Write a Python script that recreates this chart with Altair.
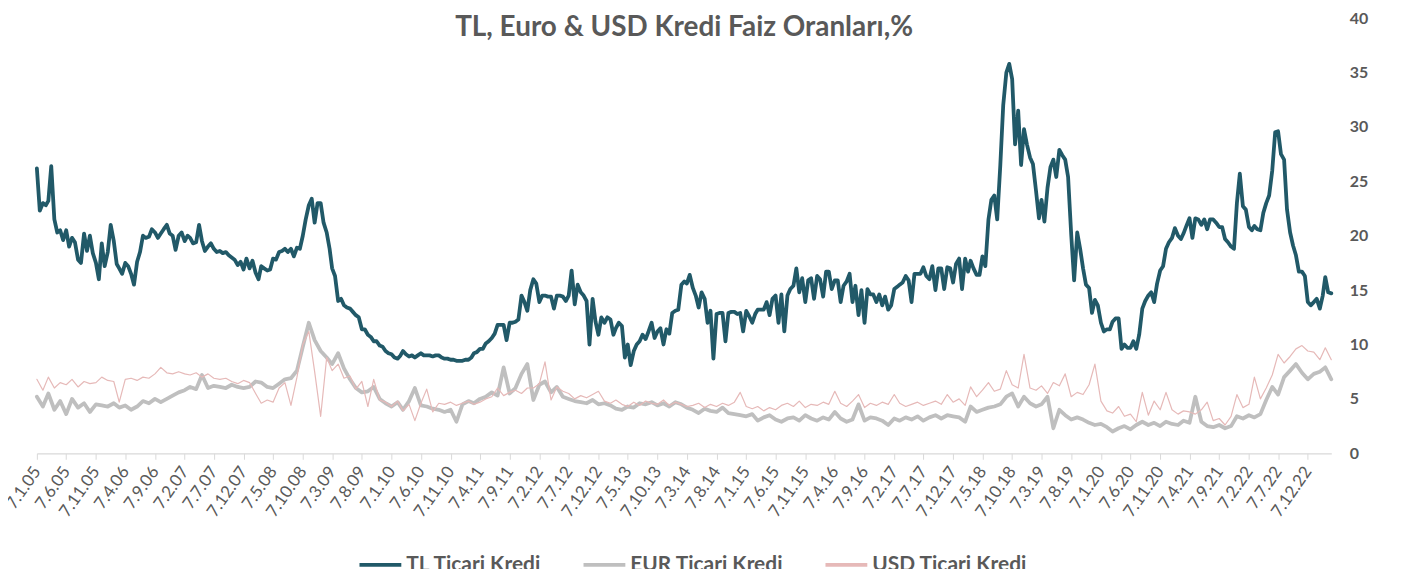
import altair as alt
import pandas as pd

title_text = "TL, Euro & USD Kredi Faiz Oranları,%"
series_names = ["TL Ticari Kredi", "EUR Ticari Kredi", "USD Ticari Kredi"]
series_colors = ["#215968", "#BFBFBF", "#E6B9B8"]
series_widths = [3.8, 3.8, 1.2]

start_date = "2005-01-07"

x_tick_labels = ["7.1.05", "7.6.05", "7.11.05", "7.4.06", "7.9.06", "7.2.07", "7.7.07", "7.12.07",
                 "7.5.08", "7.10.08", "7.3.09", "7.8.09", "7.1.10", "7.6.10", "7.11.10", "7.4.11",
                 "7.9.11", "7.2.12", "7.7.12", "7.12.12", "7.5.13", "7.10.13", "7.3.14", "7.8.14",
                 "7.1.15", "7.6.15", "7.11.15", "7.4.16", "7.9.16", "7.2.17", "7.7.17", "7.12.17",
                 "7.5.18", "7.10.18", "7.3.19", "7.8.19", "7.1.20", "7.6.20", "7.11.20", "7.4.21",
                 "7.9.21", "7.2.22", "7.7.22", "7.12.22"]
y_ticks = [0, 5, 10, 15, 20, 25, 30, 35, 40]

# TL: two readings per month (7th and 22nd), Jan 2005 - Apr 2023
tl_values = [
    26.2, 22.3, 23.0, 22.8, 23.2, 26.4, 21.5, 20.3, 20.5, 19.6, 20.5, 19.0,   # 2005 H1
    19.8, 19.4, 17.8, 17.5, 20.2, 18.6, 20.0, 18.4, 17.5, 16.0, 19.3, 17.2,   # 2005 H2
    18.5, 21.0, 19.5, 17.4, 17.0, 16.5, 17.5, 17.2, 16.5, 15.5, 17.6, 18.5,   # 2006 H1
    20.0, 19.8, 19.9, 20.6, 20.3, 19.8, 20.2, 20.6, 21.0, 20.2, 20.0, 18.7,   # 2006 H2
    20.0, 20.3, 19.5, 20.0, 19.8, 19.3, 19.4, 21.0, 19.5, 18.6, 19.0, 19.3,   # 2007 H1
    18.8, 18.5, 18.6, 18.4, 18.5, 18.2, 18.0, 17.8, 17.3, 17.6, 16.9, 17.9,   # 2007 H2
    17.0, 17.7, 16.6, 16.0, 17.2, 17.0, 16.8, 16.9, 17.9, 17.8, 18.5, 18.6,   # 2008 H1
    18.8, 18.5, 18.8, 18.1, 18.9, 18.8, 20.0, 21.5, 22.8, 23.4, 21.2, 23.0,   # 2008 H2
    23.0, 21.2, 20.3, 18.8, 17.0, 16.3, 14.0, 14.2, 13.6, 13.4, 13.3, 13.0,   # 2009 H1
    12.7, 12.5, 11.4, 11.4, 10.9, 10.7, 10.3, 10.3, 9.9, 9.8, 9.4, 9.2,       # 2009 H2
    9.1, 8.8, 8.7, 9.0, 9.4, 9.1, 8.9, 9.0, 8.8, 9.0, 9.2, 9.0,               # 2010 H1
    9.0, 9.0, 8.9, 9.0, 9.0, 8.8, 8.7, 8.7, 8.6, 8.6, 8.5, 8.5,               # 2010 H2
    8.5, 8.6, 8.6, 8.8, 9.2, 9.3, 9.6, 9.6, 10.1, 10.3, 10.6, 11.0,           # 2011 H1
    11.8, 11.8, 11.8, 10.4, 12.0, 12.0, 12.1, 12.3, 14.5, 13.9, 13.1, 15.0,   # 2011 H2
    16.0, 15.6, 13.9, 14.5, 14.5, 14.4, 14.4, 13.3, 14.5, 14.5, 14.4, 14.0,   # 2012 H1
    14.5, 16.8, 13.7, 15.5, 14.8, 14.5, 14.0, 10.0, 14.2, 12.1, 10.9, 12.5,   # 2012 H2
    12.0, 12.5, 12.3, 10.9, 11.5, 12.0, 11.7, 8.8, 10.0, 8.1, 9.4, 10.0,      # 2013 H1
    10.3, 10.9, 10.5, 11.2, 12.0, 10.6, 11.2, 11.5, 10.0, 11.4, 11.0, 12.9,   # 2013 H2
    13.1, 13.2, 15.5, 15.8, 15.6, 16.4, 15.2, 14.5, 13.4, 14.8, 14.2, 12.0,   # 2014 H1
    13.1, 8.7, 12.8, 12.9, 12.9, 10.3, 12.9, 13.0, 13.0, 12.8, 12.9, 11.2,    # 2014 H2
    13.1, 12.6, 12.0, 12.8, 13.2, 13.2, 13.2, 13.9, 12.7, 14.2, 14.5, 12.0,   # 2015 H1
    14.6, 11.2, 14.5, 15.1, 15.4, 17.0, 14.8, 16.1, 13.9, 15.9, 16.1, 14.2,   # 2015 H2
    16.3, 16.0, 14.4, 16.7, 16.7, 15.1, 15.9, 15.9, 13.9, 15.4, 15.8, 16.5,   # 2016 H1
    13.9, 15.4, 12.7, 15.0, 12.0, 15.1, 14.6, 14.6, 13.9, 14.6, 13.6, 14.4,   # 2016 H2
    13.2, 13.6, 15.1, 15.3, 15.5, 15.7, 16.3, 15.9, 13.9, 16.5, 16.5, 16.5,   # 2017 H1
    17.1, 16.3, 16.0, 17.2, 15.0, 17.0, 17.0, 15.1, 17.1, 17.0, 15.7, 17.4,   # 2017 H2
    17.9, 15.1, 17.9, 16.7, 17.7, 17.0, 16.4, 16.4, 18.1, 17.2, 21.5, 23.3,   # 2018 H1
    23.7, 21.5, 26.5, 32.0, 35.0, 35.8, 34.4, 28.4, 31.5, 26.5, 29.8, 28.4,   # 2018 H2
    27.2, 26.6, 24.1, 21.6, 23.3, 21.3, 24.4, 26.3, 27.0, 25.4, 27.9, 27.4,   # 2019 H1
    27.0, 25.4, 20.1, 15.9, 20.3, 18.8, 17.0, 15.5, 15.2, 12.9, 14.1, 13.6,   # 2019 H2
    12.0, 11.2, 11.4, 11.4, 12.1, 12.4, 12.4, 9.6, 10.0, 9.7, 9.7, 10.3,      # 2020 H1
    9.6, 10.9, 13.3, 14.0, 14.5, 14.8, 13.9, 15.6, 16.8, 17.2, 18.8, 19.4,    # 2020 H2
    19.8, 20.7, 20.0, 19.7, 20.2, 20.9, 21.6, 19.8, 21.6, 21.5, 21.0, 21.5,   # 2021 H1
    20.6, 21.5, 21.5, 21.2, 20.8, 20.8, 19.7, 19.4, 19.0, 18.8, 23.0, 25.7,   # 2021 H2
    22.7, 22.4, 20.8, 20.5, 20.9, 20.6, 20.5, 22.1, 23.0, 23.7, 26.0, 29.5,   # 2022 H1
    29.6, 27.5, 27.0, 22.4, 20.3, 19.1, 18.2, 16.7, 16.7, 16.3, 13.9, 13.6,   # 2022 H2
    13.9, 14.2, 13.3, 14.5, 16.2, 14.8, 14.7,                                 # 2023
]

# EUR and USD: one reading per month (7th), Jan 2005 - Apr 2023
eur_values = [
    5.2, 4.3, 5.5, 4.0, 4.8, 3.6, 5.0, 4.2, 4.6, 3.8, 4.5, 4.4,
    4.3, 4.6, 4.2, 4.4, 4.0, 4.3, 4.8, 4.6, 5.0, 4.7, 5.0, 5.3,
    5.6, 5.8, 6.1, 5.9, 7.2, 6.0, 6.2, 6.1, 6.0, 6.3, 6.1, 6.0,
    6.1, 6.6, 6.5, 6.1, 6.0, 6.4, 6.8, 6.9, 7.6, 9.8, 12.0, 10.4,
    9.4, 8.8, 8.2, 9.2, 7.8, 6.8, 6.0, 5.6, 5.7, 6.1, 5.0, 4.6,
    4.3, 4.7, 4.0, 4.8, 6.0, 4.4, 4.3, 4.1, 4.0, 3.8, 4.0, 2.9,
    4.5, 4.8, 4.6, 5.0, 5.2, 5.6, 5.3, 7.9, 5.5, 6.0, 7.3, 8.2,
    4.9, 6.3, 6.6, 5.6, 6.1, 5.2, 5.0, 4.8, 4.7, 4.6, 4.9, 4.5,
    4.6, 4.4, 4.1, 4.0, 4.3, 4.2, 4.6, 4.5, 4.7, 4.4, 4.6, 4.3,
    4.7, 4.5, 4.2, 4.0, 3.7, 4.1, 3.9, 3.8, 4.2, 3.7, 3.6, 3.5,
    3.4, 3.6, 3.0, 3.3, 3.5, 3.1, 2.9, 3.2, 3.3, 3.0, 3.5, 3.2,
    3.0, 3.3, 3.1, 3.8, 3.2, 2.9, 3.1, 4.5, 3.0, 3.3, 3.2, 3.0,
    2.6, 3.2, 3.0, 3.3, 3.1, 3.4, 3.0, 3.3, 3.5, 3.2, 3.5, 3.4,
    3.3, 2.9, 4.3, 3.8, 4.0, 4.2, 4.3, 4.5, 5.2, 5.5, 4.3, 5.2,
    4.6, 4.3, 4.5, 5.2, 2.3, 4.0, 3.5, 3.1, 3.3, 3.1, 2.8, 2.6,
    2.7, 2.4, 2.0, 2.3, 2.5, 2.2, 2.6, 2.9, 2.6, 2.8, 2.5, 2.9,
    2.7, 2.6, 3.0, 2.8, 5.2, 2.9, 2.5, 2.4, 2.6, 2.3, 2.5, 3.4,
    3.2, 3.5, 3.3, 3.6, 4.9, 6.1, 5.4, 7.0, 7.6, 8.2, 7.4, 6.8,
    7.3, 7.5, 7.9, 6.8,
]

usd_values = [
    6.8, 5.8, 7.0, 6.0, 6.5, 6.3, 6.8, 6.1, 6.6, 6.4, 6.5, 7.0,
    6.7, 6.6, 4.7, 6.8, 6.9, 6.7, 7.0, 6.9, 7.3, 7.9, 7.4, 7.3,
    7.5, 7.3, 7.2, 7.4, 7.0, 7.3, 6.9, 6.8, 6.9, 6.6, 6.4, 6.7,
    6.5, 5.5, 4.6, 4.9, 4.7, 6.0, 6.5, 4.4, 7.0, 10.0, 11.2, 7.5,
    3.4, 8.8, 7.6, 8.2, 6.9, 7.1, 5.9, 6.6, 4.3, 6.8, 4.9, 4.7,
    4.3, 4.8, 3.9, 4.5, 3.0, 4.6, 5.9, 3.8, 4.6, 4.5, 4.7, 4.4,
    4.6, 4.8, 4.5, 4.7, 5.0, 5.2, 6.0, 5.3, 5.6, 5.8, 5.5, 6.0,
    6.0, 6.4, 8.4, 4.9, 6.1, 5.7, 5.5, 5.0, 5.3, 5.1, 5.4, 5.7,
    4.8, 4.6, 4.9, 4.5, 4.3, 4.7, 4.4, 4.8, 4.6, 4.5, 4.9, 4.4,
    4.7, 4.5, 4.3, 4.4, 4.6, 4.2, 4.5, 4.3, 4.6, 4.4, 4.7, 5.6,
    4.3, 4.1, 4.3, 3.9, 4.2, 4.0, 4.4, 4.6, 4.3, 4.8, 4.2, 4.5,
    4.4, 4.7, 4.5, 5.7, 4.6, 4.3, 4.8, 5.4, 4.2, 4.6, 4.4, 4.7,
    4.5, 5.4, 4.6, 4.3, 4.5, 4.7, 4.4, 4.6, 4.8, 4.5, 5.4, 4.7,
    5.0, 4.4, 6.1, 5.2, 5.8, 6.5, 5.7, 5.9, 7.6, 6.3, 6.0, 9.1,
    6.0, 5.8, 6.2, 5.5, 6.5, 6.2, 7.3, 5.2, 5.6, 5.4, 6.3, 8.2,
    4.8, 3.9, 3.7, 4.3, 3.4, 3.6, 2.9, 5.6, 3.5, 4.8, 4.0, 5.6,
    4.0, 3.6, 3.9, 3.8, 3.6, 4.0, 4.7, 3.0, 3.2, 2.6, 3.4, 5.4,
    4.2, 4.5, 7.0, 5.0, 6.0, 7.2, 9.1, 8.3, 8.9, 9.6, 9.9, 9.4,
    9.3, 8.6, 9.7, 8.6,
]

n_months = len(eur_values)
month_starts = pd.date_range(start_date, periods=n_months, freq=pd.DateOffset(months=1))
monthly_dates = list(month_starts.strftime("%Y-%m-%d"))
semi_dates = []
for i, d in enumerate(month_starts):
    semi_dates.append(d.strftime("%Y-%m-%d"))
    if i < n_months - 1:
        semi_dates.append(d.strftime("%Y-%m-22"))

frames = {
    "TL Ticari Kredi": pd.DataFrame({"date": semi_dates, "value": tl_values, "series": "TL Ticari Kredi"}),
    "EUR Ticari Kredi": pd.DataFrame({"date": monthly_dates, "value": eur_values, "series": "EUR Ticari Kredi"}),
    "USD Ticari Kredi": pd.DataFrame({"date": monthly_dates, "value": usd_values, "series": "USD Ticari Kredi"}),
}


def label_to_ms(s):
    d, m, y = s.split(".")
    return int(pd.Timestamp(year=2000 + int(y), month=int(m), day=int(d), tz="UTC").value // 10**6)


tick_values = [label_to_ms(s) for s in x_tick_labels]
end_date = month_starts[-1]

FONT = "Lato"
GRAY = "#595959"

x_enc = alt.X(
    "date:T",
    scale=alt.Scale(
        type="utc",
        domain=[alt.DateTime(year=2005, month=1, date=7, utc=True),
                alt.DateTime(year=end_date.year, month=end_date.month, date=end_date.day, utc=True)],
    ),
    axis=alt.Axis(
        values=tick_values,
        labelExpr="utcFormat(datum.value, '%-d.%-m.%y')",
        labelAngle=-55,
        labelAlign="right",
        labelBaseline="middle",
        labelFont=FONT,
        labelFontSize=17,
        labelColor=GRAY,
        labelPadding=9,
        labelOverlap=False,
        labelBound=False,
        labelFlush=False,
        domainColor="#D9D9D9",
        domainWidth=1.2,
        tickColor="#D9D9D9",
        tickSize=6,
        grid=False,
        title=None,
    ),
)
y_enc = alt.Y(
    "value:Q",
    scale=alt.Scale(domain=[0, 40], nice=False),
    axis=alt.Axis(
        orient="right",
        values=y_ticks,
        labelFont=FONT,
        labelFontSize=16,
        labelFontWeight="bold",
        labelColor=GRAY,
        labelPadding=18,
        labelAlign="left",
        domain=False,
        ticks=False,
        grid=False,
        title=None,
    ),
)
legend = alt.Legend(
    orient="none",
    legendX=322,
    legendY=526,
    direction="horizontal",
    symbolType="stroke",
    symbolSize=1764,
    labelFont=FONT,
    labelFontSize=21,
    labelFontWeight="bold",
    labelColor=GRAY,
    labelOffset=3,
    columnPadding=34,
    labelLimit=400,
)
color_enc = alt.Color(
    "series:N",
    scale=alt.Scale(domain=series_names, range=series_colors),
    title=None,
    legend=legend,
)
width_enc = alt.StrokeWidth(
    "series:O",
    scale=alt.Scale(domain=series_names, range=series_widths),
    title=None,
    legend=legend,
)

layers = []
for name in ["EUR Ticari Kredi", "USD Ticari Kredi", "TL Ticari Kredi"]:
    w = series_widths[series_names.index(name)]
    layers.append(
        alt.Chart(frames[name]).mark_line(strokeWidth=w, strokeJoin="round", strokeCap="round").encode(
            x=x_enc, y=y_enc, color=color_enc, strokeWidth=width_enc
        )
    )

title_layer = alt.Chart(pd.DataFrame({"t": [title_text]})).mark_text(
    font=FONT, fontSize=28, fontWeight="bold", color=GRAY, align="center", baseline="middle"
).encode(text="t:N", x=alt.value(650), y=alt.value(10))

chart = alt.layer(*layers, title_layer).properties(
    width=1300,
    height=437,
    autosize=alt.AutoSizeParams(type="none"),
    padding={"left": 29, "top": 9, "right": 70, "bottom": 115},
).configure(font=FONT).configure_view(stroke=None)

chart.save("out.html", embed_options={"renderer": "svg", "actions": False})
